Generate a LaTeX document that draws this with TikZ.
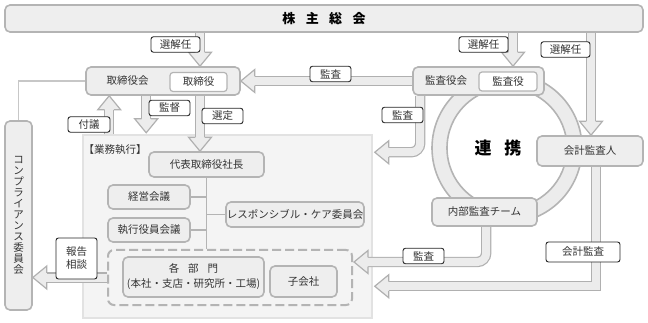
\documentclass[tikz,border=0pt]{standalone}
\usepackage{fontspec}
\setmainfont{Noto Sans CJK JP}
\usetikzlibrary{calc}
\pgfdeclarelayer{back}
\pgfdeclarelayer{mid}
\pgfsetlayers{back,mid,main}
\definecolor{boxline}{HTML}{B4B4B4}
\definecolor{boxfill}{HTML}{EEEEEE}
\definecolor{arrline}{HTML}{B0B0B0}
\definecolor{arrfill}{HTML}{ECECEC}
\definecolor{panelfill}{HTML}{F4F4F4}
\definecolor{panelline}{HTML}{E2E2E2}
\definecolor{txt}{HTML}{333333}
\tikzset{
  graybox/.style={draw=boxline, fill=boxfill, line width=1.6pt, rounded corners=5pt, inner sep=0pt},
  whitebox/.style={draw=boxline, fill=white, line width=1.2pt, rounded corners=3pt, inner sep=0pt},
  tag/.style={draw=black!85, fill=white, line width=0.9pt, rounded corners=2.5pt, inner sep=0pt, minimum height=15.5pt},
  bigband/.style={draw=arrline, line width=1.2pt, double=arrfill, double distance=8pt, shorten >=13pt},
  tree/.style={draw=boxline, line width=1.6pt},
  bighead/.pic={\filldraw[fill=arrfill, draw=arrline, line width=1.2pt, line join=miter] (-14,4.6) -- (-14,11.5) -- (0,0) -- (-14,-11.5) -- (-14,-4.6);}
}
\begin{document}
\begin{tikzpicture}[x=1pt, y=-1pt, font=\fontsize{10.5}{12.6}\selectfont, every node/.append style={text=txt}]
\useasboundingbox (0,0) rectangle (648,323);

\begin{pgfonlayer}{back}
\node[draw=panelline, fill=panelfill, line width=1.5pt, inner sep=0pt, minimum width=289pt, minimum height=183pt] (panel) at (227.5,226.5) {};
\coordinate (ringc) at (507,148);
\filldraw[fill=arrfill, draw=boxline, line width=1.6pt, even odd rule] (ringc) circle[radius=75] (ringc) circle[radius=60];
\end{pgfonlayer}

% boxes
\node[graybox, minimum width=638pt, minimum height=27pt, font=\fontsize{13}{15}\selectfont\bfseries, text=black] (soukai) at (324,18.5) {株\hspace{0.8em}主\hspace{0.8em}総\hspace{0.8em}会};
\node[graybox, minimum width=154pt, minimum height=28pt] (tori) at (163,81) {};
\node (toritxt) at (127.5,81) {取締役会};
\node[whitebox, minimum width=57pt, minimum height=19pt] (toriin) at (198.5,82) {取締役};
\node[graybox, minimum width=131pt, minimum height=28pt] (kansa) at (478.5,81) {};
\node (kansatxt) at (446,81) {監査役会};
\node[whitebox, minimum width=58pt, minimum height=19pt] (kansain) at (508,81.5) {監査役};
\node[graybox, minimum width=106pt, minimum height=30pt] (kaikei) at (590,151) {会計監査人};
\node[graybox, minimum width=105pt, minimum height=28pt] (naibu) at (484.5,212) {内部監査チーム};
\node[graybox, minimum width=27pt, minimum height=189pt, align=center, font=\fontsize{10.5}{11}\selectfont] (comp) at (18.5,215.5) {コ\\ン\\プ\\ラ\\イ\\ア\\ン\\ス\\委\\員\\会};
\node[font=\fontsize{17}{20}\selectfont\bfseries, text=black] (renkei) at (498,148) {連\hspace{0.75em}携};

\node[anchor=west] (gyomu) at (80,150) {【業務執行】};
\node[graybox, minimum width=115pt, minimum height=25pt] (shacho) at (206.5,164.5) {代表取締役社長};
\node[graybox, minimum width=82pt, minimum height=24pt] (keiei) at (149,197) {経営会議};
\node[graybox, minimum width=82pt, minimum height=24pt] (shikko) at (149,230) {執行役員会議};
\node[graybox, minimum width=138pt, minimum height=25pt] (rc) at (295,214.5) {レスポンシブル・ケア委員会};
\node[draw=boxline, line width=2pt, dash pattern=on 9pt off 4pt, rounded corners=6pt, inner sep=0pt, minimum width=244pt, minimum height=55pt] (units) at (230,277.5) {};
\node[graybox, minimum width=141pt, minimum height=40pt, align=center, font=\fontsize{10.5}{15}\selectfont] (bumon) at (193.5,277) {各\hspace{0.85em}部\hspace{0.85em}門\\(本社・支店・研究所・工場)};
\node[graybox, minimum width=67pt, minimum height=31pt] (kogaisha) at (303.5,281.5) {子会社};

% connectors
\begin{pgfonlayer}{mid}
\coordinate (t1) at ([xshift=37pt]tori.north);
\draw[bigband] (soukai.south -| t1) -- (t1);
\pic[rotate=-90] at (t1) {bighead};
\coordinate (t2) at ([xshift=34.5pt]kansa.north);
\draw[bigband] (soukai.south -| t2) -- (t2);
\pic[rotate=-90] at (t2) {bighead};
\coordinate (t3) at ([xshift=1pt]kaikei.north);
\draw[bigband] (soukai.south -| t3) -- (t3);
\pic[rotate=-90] at (t3) {bighead};
\draw[bigband] (kansa.west) -- (tori.east);
\pic[rotate=180] at (tori.east) {bighead};
\coordinate (s5) at ($(kansa.south west)+(8,0)$);
\coordinate (t5) at ($(panel.north east)+(2,18)$);
\draw[bigband, rounded corners=9pt] (s5) |- (t5);
\pic[rotate=180] at (t5) {bighead};
\coordinate (s6) at ($(tori.south west)+(61,0)$);
\coordinate (t6) at ($(s6)+(0,37)$);
\draw[bigband] (s6) -- (t6);
\pic[rotate=-90] at (t6) {bighead};
\coordinate (t7) at ($(tori.south west)+(24,0)$);
\draw[bigband] (panel.north -| t7) -- (t7);
\pic[rotate=90] at (t7) {bighead};
\draw[bigband] (tori.south -| t1) -- (shacho.north -| t1);
\pic[rotate=-90] at (shacho.north -| t1) {bighead};
\draw[bigband] (units.west) -- (comp.east |- units.west);
\pic[rotate=180] at (comp.east |- units.west) {bighead};
\coordinate (s10) at ($(naibu.south west)+(55,0)$);
\coordinate (t10) at ($(units.north east)+(1,13)$);
\draw[bigband, rounded corners=9pt] (s10) |- (t10);
\pic[rotate=180] at (t10) {bighead};
\coordinate (s11) at ($(kaikei.south)+(6,0)$);
\coordinate (t11) at ($(panel.north east)+(2,152)$);
\draw[bigband] (s11) |- (t11);
\pic[rotate=180] at (t11) {bighead};
\draw[tree] (shacho.south) -- (shacho.south |- units.north);
\draw[tree] (keiei.east) -- (keiei.east -| shacho.south);
\draw[tree] (shikko.east) -- (shikko.east -| shacho.south);
\draw[tree] (rc.west) -- (rc.west -| shacho.south);
\draw[draw=black!22, line width=1.6pt] (tori.west) -| (comp.north);
\end{pgfonlayer}

% labels
\node[tag, minimum width=49pt] (l1) at (175.5,44.5) {選解任};
\node[tag, minimum width=49pt] (l2) at (483.5,44.5) {選解任};
\node[tag, minimum width=49pt] (l3) at (565.5,49.5) {選解任};
\node[tag, minimum width=41pt] (l4) at (330.5,74) {監査};
\node[tag, minimum width=41pt] (l5) at (402.5,115) {監査};
\node[tag, minimum width=41pt] (l6) at (169.5,108) {監督};
\node[tag, minimum width=42pt] (l7) at (89,124.5) {付議};
\node[tag, minimum width=41pt] (l8) at (222.5,116) {選定};
\node[tag, minimum width=41pt, minimum height=41pt, align=center, font=\fontsize{10.5}{13}\selectfont] (l9) at (76.5,258.5) {報告\\相談};
\node[tag, minimum width=41pt] (l10) at (423.5,256) {監査};
\node[tag, minimum width=74pt, minimum height=20pt] (l11) at (583,252) {会計監査};
\end{tikzpicture}
\end{document}
